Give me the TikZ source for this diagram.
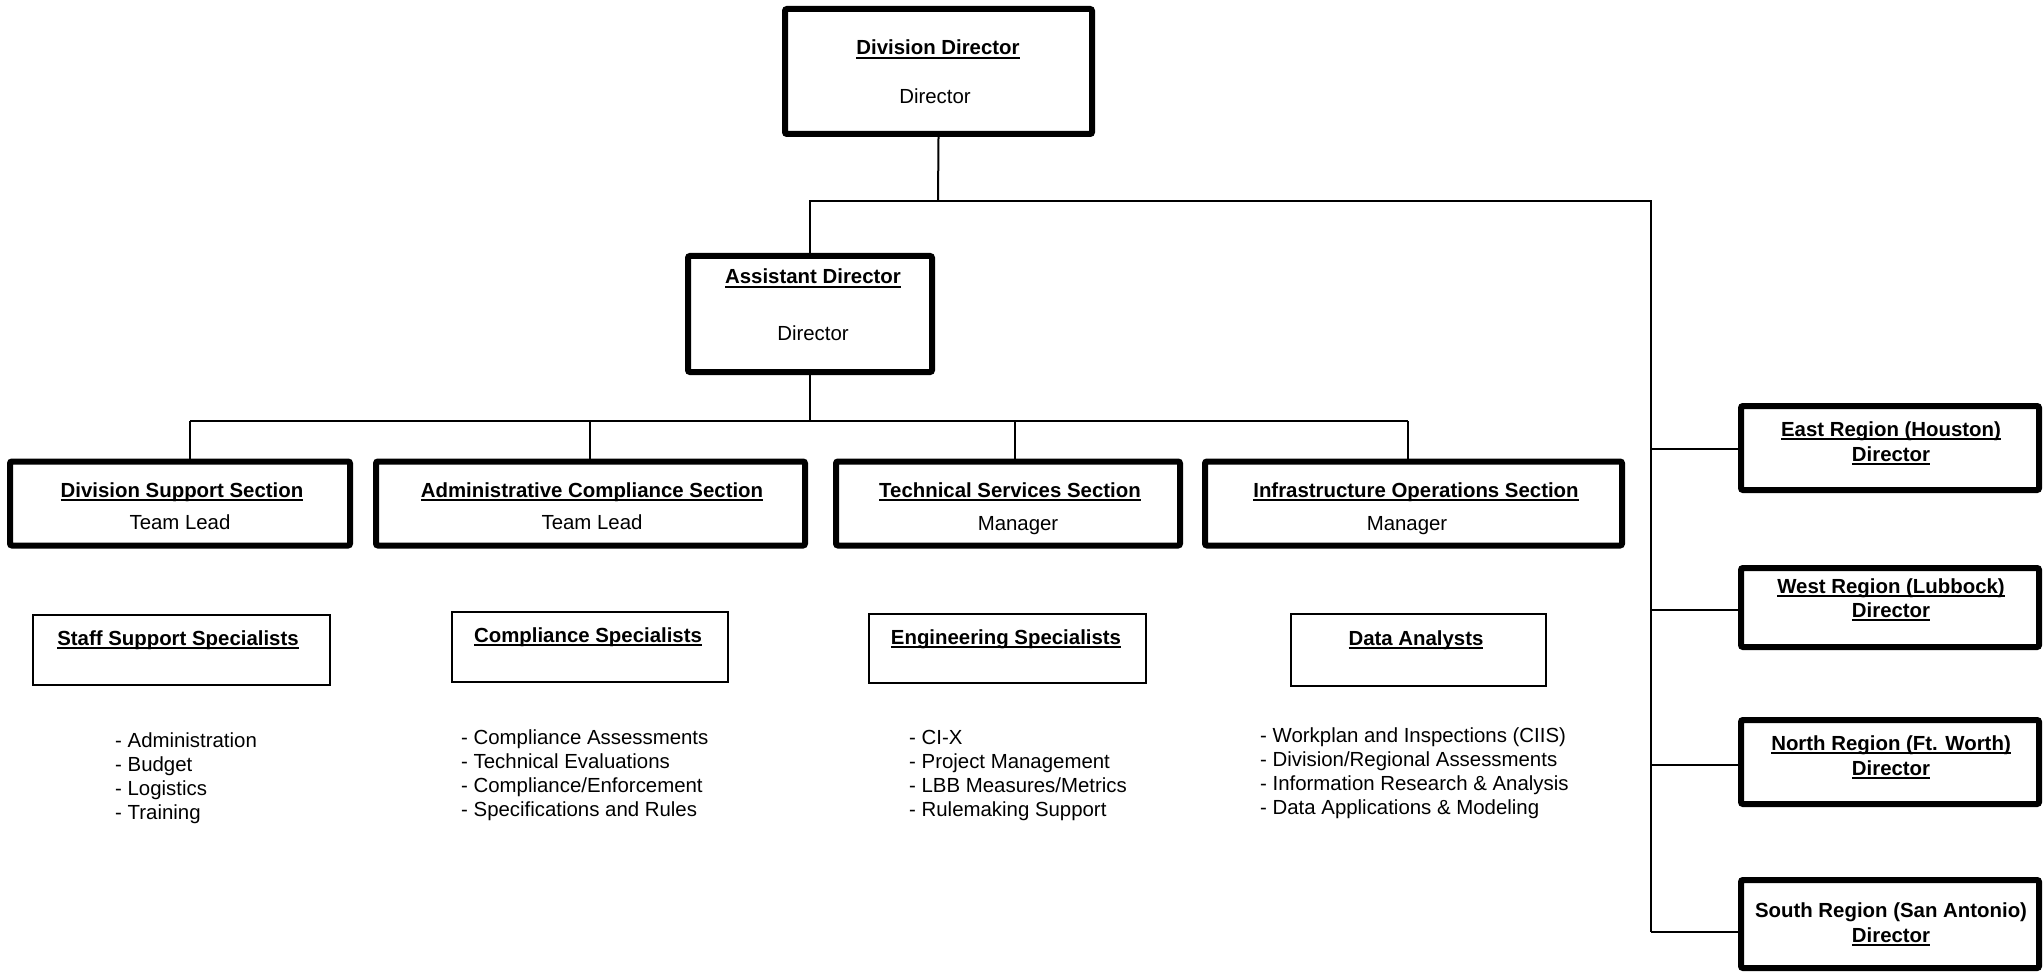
\documentclass[tikz,border=0pt]{standalone}
\usepackage{fontspec}
\setmainfont{Liberation Sans}
\newcommand{\myul}[1]{\setbox0\hbox{#1}\rlap{\rule[-4.4pt]{\wd0}{2.2pt}}\box0}
\newcommand{\fs}{\fontsize{20.4}{23.5}\selectfont}
\newcommand{\fsl}{\fontsize{20.4}{24}\selectfont}
\tikzset{
  thickbox/.style={draw, line width=6pt, rounded corners=2pt, inner sep=0pt},
  thinbox/.style={draw, line width=2pt, inner sep=0pt},
  conn/.style={line width=2pt},
  ttl/.style={font=\fs\bfseries, anchor=base, inner sep=0pt},
  subt/.style={font=\fs, anchor=base, inner sep=0pt},
  lst/.style={font=\fsl, anchor=base west, inner sep=0pt},
}
\begin{document}
\begin{tikzpicture}[x=1pt,y=-1pt]
\useasboundingbox (0,0) rectangle (2044,973);

% top level
\node[thickbox, minimum width=307pt, minimum height=125pt] (dd) at (938.5,71.5) {};
\node[ttl] (ddt) at (938,55) {\myul{Division Director}};
\node[subt] (dds) at (935,104) {Director};

\node[thickbox, minimum width=244pt, minimum height=116pt] (ad) at (810,314) {};
\node[ttl] (adt) at (813,284) {\myul{Assistant Director}};
\node[subt] (ads) at (813,341) {Director};

% sections
\node[thickbox, minimum width=340pt, minimum height=84pt] (dss) at (180,503.5) {};
\node[ttl] (dsst) at (182,497) {\myul{Division Support Section}};
\node[subt] (dsss) at (180,529.5) {Team Lead};

\node[thickbox, minimum width=429pt, minimum height=84pt] (acs) at (590.5,503.5) {};
\node[ttl] (acst) at (592,497) {\myul{Administrative Compliance Section}};
\node[subt] (acss) at (592,529.5) {Team Lead};

\node[thickbox, minimum width=344pt, minimum height=84pt] (tss) at (1008,503.5) {};
\node[ttl] (tsst) at (1010,497) {\myul{Technical Services Section}};
\node[subt] (tsss) at (1018,530.5) {Manager};

\node[thickbox, minimum width=417pt, minimum height=84pt] (ios) at (1413.5,503.5) {};
\node[ttl] (iost) at (1416,497) {\myul{Infrastructure Operations Section}};
\node[subt] (ioss) at (1407,530.5) {Manager};

% regions
\node[thickbox, minimum width=298pt, minimum height=84pt] (east) at (1890,448) {};
\node[ttl] (eastt) at (1891,436) {\myul{East Region (Houston)}};
\node[ttl] (easts) at (1891,461) {\myul{Director}};

\node[thickbox, minimum width=298pt, minimum height=79pt] (west) at (1890,607.5) {};
\node[ttl] (westt) at (1891,593) {\myul{West Region (Lubbock)}};
\node[ttl] (wests) at (1891,617) {\myul{Director}};

\node[thickbox, minimum width=298pt, minimum height=84pt] (north) at (1890,762) {};
\node[ttl] (northt) at (1891,750) {\myul{North Region (Ft. Worth)}};
\node[ttl] (norths) at (1891,775) {\myul{Director}};

\node[thickbox, minimum width=298pt, minimum height=88pt] (south) at (1890,924) {};
\node[ttl] (southt) at (1891,917) {South Region (San Antonio)};
\node[ttl] (souths) at (1891,942) {\myul{Director}};

% specialist boxes
\node[thinbox, minimum width=297pt, minimum height=70pt] (ssp) at (181.5,650) {};
\node[ttl] (sspt) at (178,645) {\myul{Staff Support Specialists}};

\node[thinbox, minimum width=276pt, minimum height=70pt] (csp) at (590,647) {};
\node[ttl] (cspt) at (588,642) {\myul{Compliance Specialists}};

\node[thinbox, minimum width=277pt, minimum height=69pt] (esp) at (1007.5,648.5) {};
\node[ttl] (espt) at (1006,644) {\myul{Engineering Specialists}};

\node[thinbox, minimum width=255pt, minimum height=72pt] (dap) at (1418.5,650) {};
\node[ttl] (dapt) at (1416,645) {\myul{Data Analysts}};

% lists
\node[lst] (sspl) at (115,747) {\begin{tabular}[t]{@{}l@{}}- Administration\\- Budget\\- Logistics\\- Training\end{tabular}};
\node[lst] (cspl) at (461,744) {\begin{tabular}[t]{@{}l@{}}- Compliance Assessments\\- Technical Evaluations\\- Compliance/Enforcement\\- Specifications and Rules\end{tabular}};
\node[lst] (espl) at (909,744) {\begin{tabular}[t]{@{}l@{}}- CI-X\\- Project Management\\- LBB Measures/Metrics\\- Rulemaking Support\end{tabular}};
\node[lst] (dapl) at (1260,742) {\begin{tabular}[t]{@{}l@{}}- Workplan and Inspections (CIIS)\\- Division/Regional Assessments\\- Information Research \& Analysis\\- Data Applications \& Modeling\end{tabular}};

% connectors
\coordinate (tb) at (938,201);
\coordinate (eb) at (1651,449);
\coordinate (wb) at (1651,610);
\coordinate (nb) at (1651,765);
\coordinate (sb) at (1651,932);
\draw[conn] (dd.south) -- (tb);
\draw[conn] (ad.north) |- (tb) -- (tb -| sb) -- (sb);
\draw[conn] (eb) -- (eb -| east.west);
\draw[conn] (wb) -- (wb -| west.west);
\draw[conn] (nb) -- (nb -| north.west);
\draw[conn] (sb) -- (sb -| south.west);

\coordinate (s0) at (810,421);
\coordinate (s1) at (190,421);
\coordinate (s2) at (590,421);
\coordinate (s3) at (1015,421);
\coordinate (s4) at (1408,421);
\draw[conn] (ad.south) -- (s0);
\draw[conn] (s1) -- (s4);
\draw[conn] (s1) -- (s1 |- dss.north);
\draw[conn] (s2) -- (s2 |- acs.north);
\draw[conn] (s3) -- (s3 |- tss.north);
\draw[conn] (s4) -- (s4 |- ios.north);
\end{tikzpicture}
\end{document}
